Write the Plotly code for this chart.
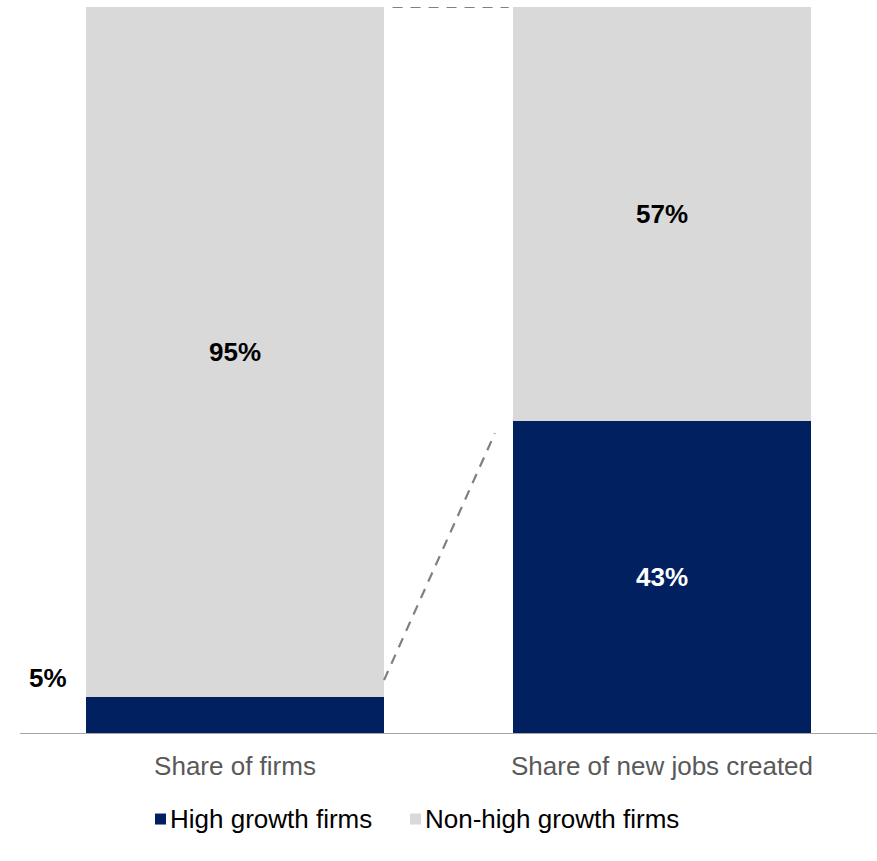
import plotly.graph_objects as go

# Categories and stacked shares (%)
categories = ["Share of firms", "Share of new jobs created"]
high_growth = [5, 43]
non_high_growth = [95, 57]
series_names = ["High growth firms", "Non-high growth firms"]

NAVY = "#002060"
GREY = "#D9D9D9"
DASH = "#808080"
FONT = "Liberation Sans, Arial, sans-serif"

BAR_WIDTH = 0.698
colors = [NAVY, GREY]

fig = go.Figure()
for vals, name, col in zip([high_growth, non_high_growth], series_names, colors):
    fig.add_trace(go.Bar(x=categories, y=vals, name=name,
                         marker=dict(color=col, line=dict(width=0)),
                         width=BAR_WIDTH, hoverinfo="skip", showlegend=False))

annotations = []
label_font = dict(family=FONT, size=26, color="#000000")
for i, cat in enumerate(categories):
    h, n = high_growth[i], non_high_growth[i]
    # non-high growth label centred in its segment
    annotations.append(dict(x=i, y=h + n / 2, xref="x", yref="y", text=f"<b>{n}%</b>",
                            showarrow=False, font=label_font))
    if h >= 15:
        annotations.append(dict(x=i, y=h / 2, xref="x", yref="y", text=f"<b>{h}%</b>",
                                showarrow=False, font=dict(family=FONT, size=26, color="#FFFFFF")))
    else:
        # thin segment: label sits just outside, left of the bar
        annotations.append(dict(x=i - BAR_WIDTH / 2 - 0.09, y=h, xref="x", yref="y",
                                text=f"<b>{h}%</b>", showarrow=False, yanchor="bottom",
                                yshift=2, font=label_font))

# Connector lines between the two bars
edge_l = 0 + BAR_WIDTH / 2
edge_r = 1 - BAR_WIDTH / 2
total = high_growth[0] + non_high_growth[0]
span = high_growth[1] - high_growth[0]
dash_line = dict(color=DASH, width=2.2, dash="10px,8px")
shapes = [
    dict(type="line", xref="x", yref="y", x0=edge_l + 0.02, x1=edge_r - 0.01,
         y0=total, y1=total, line=dash_line),
    dict(type="line", xref="x", yref="y",
         x0=edge_l, y0=high_growth[0] + 0.06 * span,
         x1=edge_l + 0.86 * (edge_r - edge_l), y1=high_growth[0] + 0.955 * span,
         line=dash_line),
]

# Legend row below the axis: small colour square followed by the series name
legend_square_x = [0.1575, 0.4551]
legend_y = -0.1185
for name, col, sx in zip(series_names, colors, legend_square_x):
    shapes.append(dict(type="rect", xref="paper", yref="paper",
                       xsizemode="pixel", ysizemode="pixel",
                       xanchor=sx, yanchor=legend_y, x0=0, x1=11, y0=-5.5, y1=5.5,
                       fillcolor=col, line=dict(width=0)))
    annotations.append(dict(x=sx + 13 / 857, y=legend_y, xref="paper", yref="paper",
                            xanchor="left", yanchor="middle", showarrow=False, text=name,
                            font=dict(family=FONT, size=26, color="#000000")))

fig.update_layout(
    barmode="stack",
    width=877, height=861,
    margin=dict(l=20, r=0, t=7, b=128),
    plot_bgcolor="white", paper_bgcolor="white",
    font=dict(family=FONT),
    showlegend=False,
    xaxis=dict(range=[-0.5035, 1.5035], showline=True, linecolor="#A6A6A6", linewidth=1,
               showgrid=False, zeroline=False, ticks="outside", ticklen=10,
               tickcolor="rgba(0,0,0,0)", tickfont=dict(family=FONT, size=26, color="#595959"),
               fixedrange=True),
    yaxis=dict(range=[0, 100], visible=False, showgrid=False, zeroline=False, fixedrange=True),
    annotations=annotations,
    shapes=shapes,
)

fig.write_html("out.html")
